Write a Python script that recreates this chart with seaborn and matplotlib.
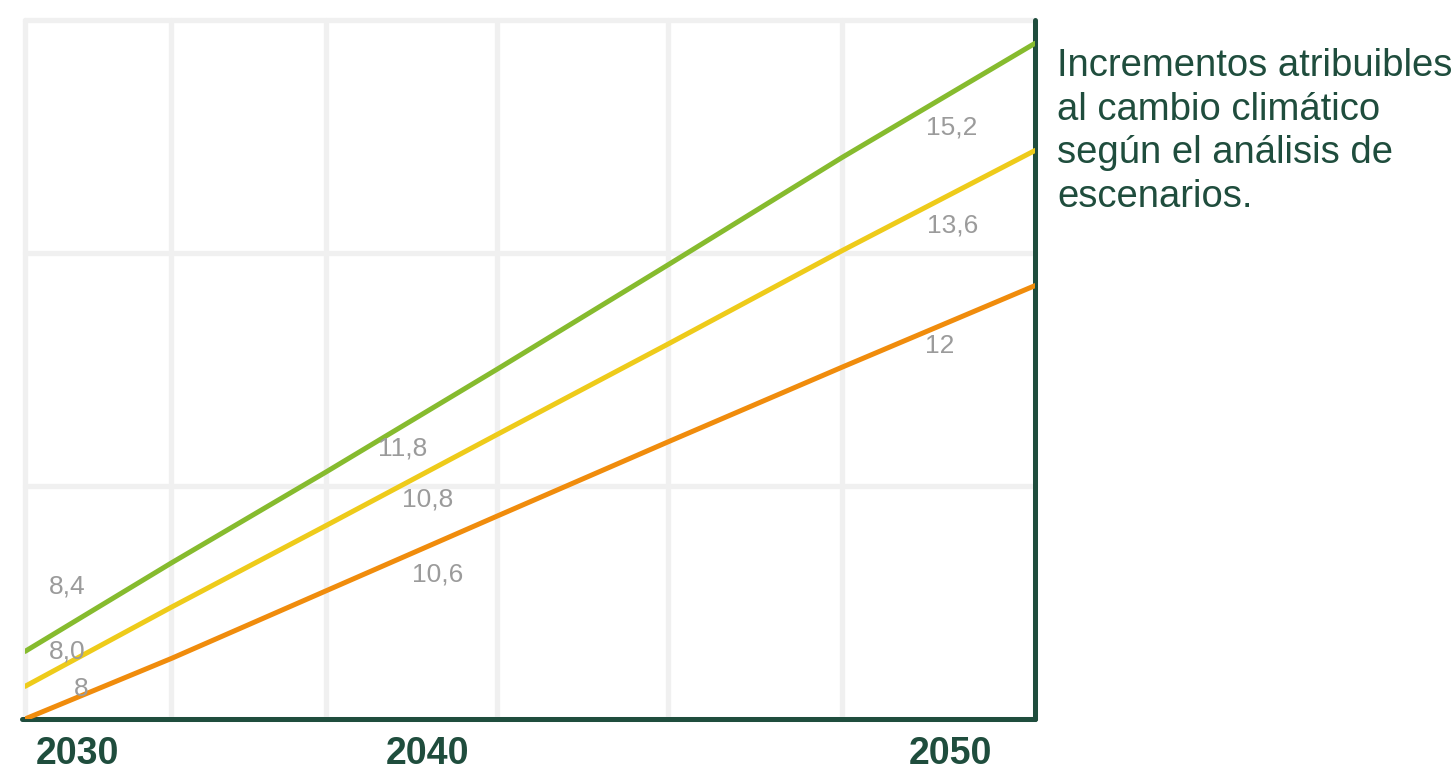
import pandas as pd
import numpy as np
import matplotlib.pyplot as plt
import seaborn as sns

# Data (x in % of the plotting width, y in grid units)
x_steps = [0, 14.5, 29.8, 46.7, 63.7, 80.9, 100]
scenario_names = ['Alto', 'Medio', 'Bajo']
green_vals = [0.29, 0.67, 1.06, 1.50, 1.95, 2.41, 2.90]
yellow_vals = [0.14, 0.48, 0.83, 1.22, 1.61, 2.01, 2.44]
orange_vals = [0.00, 0.26, 0.55, 0.87, 1.19, 1.51, 1.86]

year_labels = ['2030', '2040', '2050']
year_pos = [5.2, 39.9, 91.6]

value_labels = ['8,4', '8,0', '8', '11,8', '10,8', '10,6', '15,2', '13,6', '12']
value_x = [4.2, 4.2, 5.6, 37.4, 39.9, 40.9, 91.8, 91.8, 90.6]
value_y = [0.57, 0.29, 0.13, 1.16, 0.94, 0.62, 2.54, 2.12, 1.60]

note = 'Incrementos atribuibles\nal cambio climático\nsegún el análisis de\nescenarios.'

# Build long-form table for seaborn
df = pd.DataFrame({
    'x': x_steps * 3,
    'valor': green_vals + yellow_vals + orange_vals,
    'escenario': np.repeat(scenario_names, len(x_steps)),
})

dark_green = '#1f4d3d'
palette = {'Alto': '#86bb2e', 'Medio': '#eecb1a', 'Bajo': '#f08c0c'}

sns.set_theme(style='white')
plt.rcParams['font.family'] = ['Liberation Sans', 'DejaVu Sans']

fig = plt.figure(figsize=(14.55, 7.73), dpi=100)
ax = fig.add_axes([25 / 1455, (773 - 719) / 773, 1010 / 1455, 699 / 773])

# Background grid
for gx in x_steps:
    ax.axvline(gx, color='#f0f0f0', lw=3.8, zorder=0, clip_on=False)
for gy in [0, 1, 2, 3]:
    ax.axhline(gy, color='#f0f0f0', lw=3.8, zorder=0, clip_on=False)

sns.lineplot(data=df, x='x', y='valor', hue='escenario', palette=palette,
             linewidth=3.6, ax=ax, legend=False, zorder=3)

ax.set_xlim(0, 100)
ax.set_ylim(0, 3)

# Data labels
for lab, lx, ly in zip(value_labels, value_x, value_y):
    ax.text(lx, ly, lab, ha='center', va='center', fontsize=19,
            color='#9b9b9b', zorder=4)

# Axes styling
for side in ['left', 'top']:
    ax.spines[side].set_visible(False)
for side in ['bottom', 'right']:
    ax.spines[side].set_visible(True)
    ax.spines[side].set_color(dark_green)
    ax.spines[side].set_linewidth(3.6)
    ax.spines[side].set_capstyle('round')
ax.spines['bottom'].set_bounds(-0.3, 100)

ax.set_xticks(year_pos)
ax.set_xticklabels(year_labels)
ax.set_yticks([])
ax.tick_params(axis='x', length=0, pad=12, labelsize=27, labelcolor=dark_green)
for t in ax.get_xticklabels():
    t.set_fontweight('bold')
ax.set_xlabel('')
ax.set_ylabel('')

# Side note
fig.text(1057 / 1455, 1 - 48 / 773, note, ha='left', va='top', fontsize=27.5,
         color=dark_green, linespacing=1.27)

fig.savefig('out.png', dpi=100)
